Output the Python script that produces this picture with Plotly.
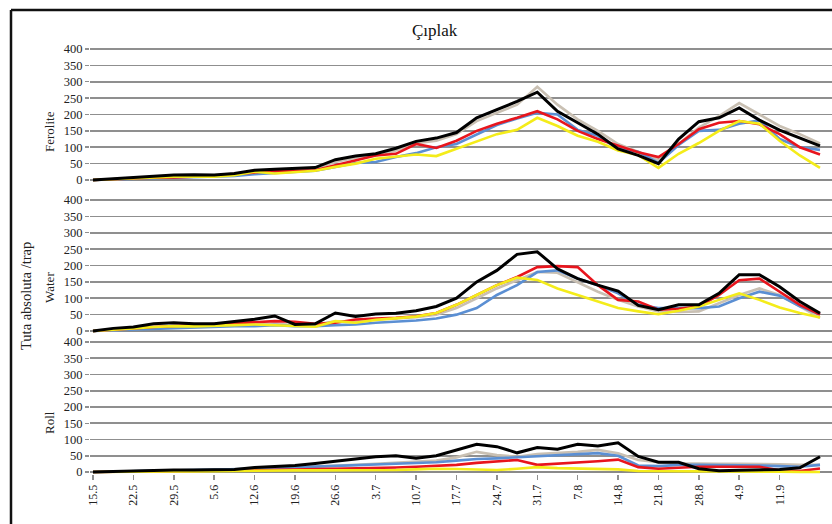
import plotly.graph_objects as go

# ---------------- data ----------------
tick_labels = ["15.5", "22.5", "29.5", "5.6", "12.6", "19.6", "26.6", "3.7", "10.7",
               "17.7", "24.7", "31.7", "7.8", "14.8", "21.8", "28.8", "4.9", "11.9"]
sample_index = list(range(37))          # two counts per week
panel_names = ["Ferolite", "Water", "Roll"]
series_names = ["Tan", "Blue", "Red", "Yellow", "Black"]

ferolite_tan = [0, 3, 6, 10, 12, 14, 14, 18, 25, 30, 32, 36, 55, 68, 75, 90, 112, 120, 140,
                180, 205, 230, 285, 230, 185, 150, 110, 85, 62, 110, 160, 195, 235, 200, 165, 140, 112]
ferolite_blue = [0, 2, 4, 6, 8, 9, 10, 12, 18, 22, 25, 28, 40, 52, 55, 70, 82, 100, 110,
                 140, 168, 188, 205, 200, 153, 135, 95, 86, 52, 107, 150, 153, 172, 182, 125, 100, 92]
ferolite_red = [0, 3, 5, 7, 8, 10, 12, 18, 22, 28, 28, 30, 45, 60, 75, 80, 110, 98, 120,
                150, 172, 190, 210, 185, 150, 125, 105, 85, 70, 110, 155, 175, 180, 170, 140, 100, 78]
ferolite_yellow = [0, 3, 5, 8, 10, 10, 10, 15, 25, 20, 25, 28, 40, 50, 65, 72, 78, 73, 95,
                   118, 140, 153, 190, 165, 135, 117, 90, 76, 37, 80, 113, 150, 180, 172, 120, 75, 37]
ferolite_black = [0, 4, 8, 12, 15, 16, 15, 20, 30, 33, 35, 38, 62, 73, 80, 97, 118, 128, 145,
                  190, 215, 240, 268, 210, 175, 140, 95, 75, 50, 125, 178, 190, 220, 183, 152, 128, 104]

water_tan = [0, 3, 6, 10, 12, 14, 16, 18, 20, 22, 18, 20, 30, 30, 35, 38, 42, 50, 70,
             100, 130, 155, 180, 178, 150, 120, 95, 75, 60, 58, 60, 85, 110, 130, 110, 75, 40]
water_blue = [0, 2, 4, 6, 10, 12, 14, 15, 15, 18, 15, 15, 18, 20, 25, 28, 32, 38, 50,
              70, 110, 140, 180, 185, 160, 140, 115, 80, 70, 70, 70, 75, 100, 120, 108, 75, 51]
water_red = [0, 5, 8, 12, 15, 18, 22, 25, 28, 30, 28, 22, 25, 35, 38, 40, 45, 55, 80,
             110, 140, 165, 195, 198, 195, 140, 95, 90, 65, 68, 75, 110, 155, 160, 120, 80, 50]
water_yellow = [0, 3, 8, 12, 15, 14, 15, 18, 20, 18, 15, 13, 30, 25, 34, 38, 44, 55, 80,
                110, 140, 163, 156, 130, 110, 89, 70, 60, 51, 62, 75, 95, 115, 95, 72, 55, 41]
water_black = [0, 8, 12, 22, 25, 22, 22, 28, 36, 46, 20, 22, 55, 44, 52, 54, 62, 75, 100,
               150, 185, 234, 242, 190, 160, 140, 122, 78, 65, 80, 80, 115, 172, 172, 135, 90, 54]

roll_tan = [0, 1, 2, 3, 4, 5, 6, 8, 10, 12, 14, 16, 18, 22, 25, 28, 30, 35, 45,
            62, 52, 47, 55, 58, 62, 68, 58, 37, 30, 27, 25, 25, 25, 25, 24, 22, 22]
roll_blue = [0, 1, 2, 3, 4, 5, 6, 8, 10, 12, 14, 16, 18, 20, 22, 24, 27, 30, 35,
             40, 42, 45, 47, 50, 55, 58, 50, 20, 18, 22, 22, 22, 22, 20, 18, 16, 22]
roll_red = [0, 1, 2, 2, 3, 3, 4, 4, 5, 6, 8, 10, 10, 12, 13, 14, 16, 18, 22,
            28, 33, 37, 22, 25, 28, 33, 38, 15, 10, 14, 16, 16, 16, 16, 5, 3, 11]
roll_yellow = [0, 1, 1, 2, 2, 2, 3, 3, 4, 4, 5, 5, 5, 6, 6, 6, 8, 10, 9,
               8, 6, 10, 15, 12, 10, 8, 8, 3, 3, 3, 3, 2, 2, 2, 1, 0, 0]
roll_black = [0, 2, 4, 5, 6, 6, 6, 8, 14, 16, 20, 26, 33, 42, 47, 50, 42, 50, 68,
              85, 78, 59, 75, 70, 85, 80, 90, 48, 30, 30, 10, 4, 5, 6, 8, 13, 47]

panel_data = [
    [ferolite_tan, ferolite_blue, ferolite_red, ferolite_yellow, ferolite_black],
    [water_tan, water_blue, water_red, water_yellow, water_black],
    [roll_tan, roll_blue, roll_red, roll_yellow, roll_black],
]

# ---------------- styling / layout ----------------
W, H = 832, 524
FONT = "Liberation Serif"
colors = ["#c9c0b3", "#5b8fd3", "#e8151d", "#f4ec1a", "#000000"]
widths = [2.6, 2.6, 2.6, 2.6, 3.0]
GRID = "#8f8f8f"

# pixel geometry of the panels: (y of 0, y of 400)
panel_px = [(180, 49), (331, 200), (472, 342)]
x_left_px, x_right_px = 90, 832
first_pt_px, last_pt_px = 93, 820
ppi = (last_pt_px - first_pt_px) / 36
x_range = [-(first_pt_px - x_left_px) / ppi, 36 + (x_right_px - last_pt_px) / ppi]

fig = go.Figure()
layout = dict(
    width=W, height=H,
    margin=dict(l=0, r=0, t=0, b=0),
    paper_bgcolor="white", plot_bgcolor="white",
    showlegend=False,
    font=dict(family=FONT, color="#222222"),
)

pad = 6
for p, (name, y0, y400) in enumerate(zip(panel_names, *zip(*panel_px))):
    ax = "" if p == 0 else str(p + 1)
    ppu = (y0 - y400) / 400
    bottom_px = y0 + pad * ppu
    top_px = y400 - pad * ppu
    for s, vals in enumerate(panel_data[p]):
        fig.add_trace(go.Scatter(
            x=sample_index, y=vals, mode="lines", name=series_names[s],
            line=dict(color=colors[s], width=widths[s]),
            xaxis="x" + ax, yaxis="y" + ax, hoverinfo="skip"))
    is_bottom = (p == 2)
    layout["xaxis" + ax] = dict(
        domain=[x_left_px / W, x_right_px / W], range=x_range,
        anchor="y" + ax, showgrid=False, zeroline=False, showline=False,
        tickmode="array", tickvals=list(range(0, 36, 2)), ticktext=tick_labels,
        showticklabels=is_bottom, ticks="outside" if is_bottom else "",
        ticklen=5, tickcolor=GRID, tickwidth=1.5, tickangle=-90,
        tickfont=dict(family=FONT, size=12, color="#222222"),
        fixedrange=True, automargin=False)
    layout["yaxis" + ax] = dict(
        domain=[1 - bottom_px / H, 1 - top_px / H], range=[-pad, 400 + pad],
        anchor="x" + ax, tickmode="array", tickvals=list(range(0, 401, 50)),
        showgrid=True, gridcolor=GRID, gridwidth=1.6,
        zeroline=True, zerolinecolor="#8a8a8a", zerolinewidth=2.6,
        showline=False, ticks="outside", ticklen=4, tickcolor=GRID, tickwidth=1.5,
        tickfont=dict(family=FONT, size=12.5, color="#222222"),
        fixedrange=True, automargin=False)

label_centers = [132, 288, 423]
annotations = [dict(text="Çıplak", x=435 / W, y=1 - 30 / H, xref="paper", yref="paper",
                    xanchor="center", yanchor="middle",
                    showarrow=False, font=dict(family=FONT, size=17, color="#111111"))]
for name, cy in zip(panel_names, label_centers):
    annotations.append(dict(text=name, x=49 / W, y=1 - cy / H, xref="paper", yref="paper",
                            xanchor="center", yanchor="middle",
                            showarrow=False, textangle=-90,
                            font=dict(family=FONT, size=13, color="#222222")))
annotations.append(dict(text="Tuta absoluta /trap", x=26 / W, y=1 - 296 / H,
                        xref="paper", yref="paper", xanchor="center", yanchor="middle",
                        showarrow=False, textangle=-90,
                        font=dict(family=FONT, size=14.5, color="#222222")))
layout["annotations"] = annotations

layout["shapes"] = [
    dict(type="line", xref="paper", yref="paper", x0=11 / W, x1=1, y0=1 - 10 / H, y1=1 - 10 / H,
         line=dict(color="#111111", width=2.5)),
    dict(type="line", xref="paper", yref="paper", x0=11 / W, x1=11 / W, y0=0, y1=1 - 10 / H,
         line=dict(color="#111111", width=2.5)),
]

fig.update_layout(**layout)
fig.write_html("out.html", config={"displayModeBar": False, "staticPlot": True},
               post_script="document.body.style.margin='0';document.body.style.overflow='hidden';")
